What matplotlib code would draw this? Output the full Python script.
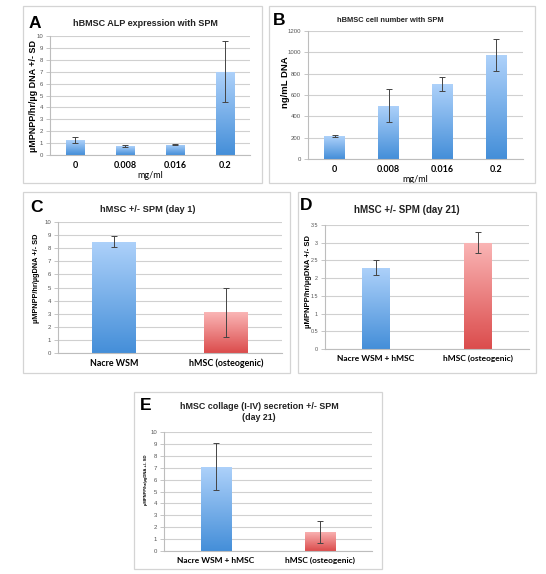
import numpy as np
import matplotlib
matplotlib.use("Agg")
import matplotlib.pyplot as plt
from matplotlib.patches import Rectangle

# ---- data ----
conc = ["0", "0.008", "0.016", "0.2"]
alp_mean = [1.25, 0.75, 0.85, 7.0]
alp_sd = [0.28, 0.05, 0.05, 2.55]
cells_mean = [215, 500, 700, 975]
cells_sd = [6, 155, 65, 150]

grp_c = ["Nacre WSM", "hMSC (osteogenic)"]
day1_mean = [8.5, 3.1]
day1_sd = [0.42, 1.9]

grp_de = ["Nacre WSM + hMSC", "hMSC (osteogenic)"]
day21_mean = [2.3, 3.0]
day21_sd = [0.2, 0.3]
coll_mean = [7.1, 1.6]
coll_sd = [1.95, 0.9]

W, H = 546, 574
FONT = "Liberation Sans"
TICKFONT = "Lato"
plt.rcParams.update({"font.family": [FONT, "DejaVu Sans"]})

fig = plt.figure(figsize=(W / 100, H / 100), dpi=100)
fig.patch.set_facecolor("white")

BLUE = [(0.68, 0.82, 0.98), (0.27, 0.56, 0.85)]
RED = [(0.98, 0.71, 0.71), (0.86, 0.30, 0.30)]


def px_rect(x0, y0, x1, y1):
    return [x0 / W, 1 - y1 / H, (x1 - x0) / W, (y1 - y0) / H]


def ftext(x, y, s, **kw):
    return fig.text(x / W, 1 - y / H, s, **kw)


def panel_box(x0, y0, x1, y1, letter, lx, ly):
    fig.patches.append(Rectangle((x0 / W, 1 - y1 / H), (x1 - x0) / W, (y1 - y0) / H,
                                 transform=fig.transFigure, fill=False,
                                 edgecolor="#d4d4d4", lw=0.9))
    ftext(lx, ly, letter, fontsize=12.5, fontweight="bold", ha="left", va="baseline")


def gradient_bars(ax, bars, colors):
    grad = np.linspace(0, 1, 64)
    for b, (top, bot) in zip(bars, colors):
        img = np.zeros((64, 1, 3))
        for k in range(3):
            img[:, 0, k] = top[k] + (bot[k] - top[k]) * grad
        x, y = b.get_x(), b.get_y()
        w, h = b.get_width(), b.get_height()
        im = ax.imshow(img, extent=(x, x + w, y, y + h), aspect="auto",
                       origin="upper", zorder=2, interpolation="bilinear")
        im.set_clip_path(b)
        b.set_facecolor("none")


def style(ax, ymax, step, xlabels, xt_size=6.5, xlabel=None, tick_fmt=None, yt_size=4.3):
    ax.set_ylim(0, ymax)
    ticks = np.arange(0, ymax + step / 2, step)
    ax.set_yticks(ticks)
    if tick_fmt:
        ax.set_yticklabels([tick_fmt(t) for t in ticks])
    ax.yaxis.grid(True, color="#d0d0d0", lw=0.8)
    ax.set_axisbelow(True)
    for s in ["top", "right"]:
        ax.spines[s].set_visible(False)
    for s in ["left", "bottom"]:
        ax.spines[s].set_color("#bdbdbd")
        ax.spines[s].set_linewidth(0.8)
    ax.tick_params(axis="y", labelsize=yt_size, colors="#bdbdbd", labelcolor="#555555",
                   length=3, width=0.6, pad=2)
    ax.tick_params(axis="x", length=0, pad=4)
    ax.set_xticks(range(len(xlabels)))
    ax.set_xticklabels(xlabels, fontsize=xt_size, family=TICKFONT, fontweight="bold")
    if xlabel:
        ax.set_xlabel(xlabel, fontsize=6.5, family=TICKFONT, labelpad=1)


def bar_panel(ax, cats, means, sds, width, colors):
    x = np.arange(len(cats))
    bars = ax.bar(x, means, width=width, color="none", zorder=2)
    gradient_bars(ax, bars, colors)
    ax.errorbar(x, means, yerr=sds, fmt="none", ecolor="#444444", elinewidth=0.7,
                capsize=2.2, capthick=0.7, zorder=4)
    ax.set_xlim(-0.5, len(cats) - 0.5)


def title(x, y, s, size):
    ftext(x, y, s, fontsize=size, fontweight="bold", color="#222222",
          ha="center", va="center", linespacing=1.25)


def ylab(x, y, s, size):
    ftext(x, y, s, fontsize=size, fontweight="bold", rotation=90,
          ha="center", va="center")


# ---- panel A ----
panel_box(23, 6, 262, 183, "A", 29, 28)
axA = fig.add_axes(px_rect(50, 36, 250, 155))
bar_panel(axA, conc, alp_mean, alp_sd, 0.38, [BLUE] * 4)
style(axA, 10, 1, conc, xlabel="mg/ml")
title(145, 23, "hBMSC ALP expression with SPM", 6.5)
ylab(34, 96, "µMPNPP/hr/µg DNA +/- SD", 6.5)

# ---- panel B ----
panel_box(269, 6, 535, 183, "B", 273, 25)
axB = fig.add_axes(px_rect(308, 31, 523, 159))
bar_panel(axB, conc, cells_mean, cells_sd, 0.39, [BLUE] * 4)
style(axB, 1200, 200, conc, xlabel="mg/ml")
title(390, 21, "hBMSC cell number with SPM", 5.4)
ylab(286, 82, "ng/mL DNA", 6.8)

# ---- panel C ----
panel_box(23, 192, 290, 373, "C", 30, 212)
axC = fig.add_axes(px_rect(58, 222, 282, 353))
bar_panel(axC, grp_c, day1_mean, day1_sd, 0.39, [BLUE, RED])
style(axC, 10, 1, grp_c, xt_size=6.4)
title(148, 210, "hMSC +/- SPM (day 1)", 6.7)
ylab(36, 278, "µMPNPP/hr/µgDNA +/- SD", 5.3)

# ---- panel D ----
panel_box(298, 192, 536, 373, "D", 300, 210)
axD = fig.add_axes(px_rect(325, 225, 529, 349))
bar_panel(axD, grp_de, day21_mean, day21_sd, 0.27, [BLUE, RED])
style(axD, 3.5, 0.5, grp_de, xt_size=6, tick_fmt=lambda t: f"{t:g}", yt_size=3.9)
title(407, 210, "hMSC +/- SPM (day 21)", 7.0)
ylab(308, 281, "µMPNPP/hr/µgDNA +/- SD", 5.5)

# ---- panel E ----
panel_box(134, 392, 382, 569, "E", 140, 410)
axE = fig.add_axes(px_rect(164, 432, 372, 551))
bar_panel(axE, grp_de, coll_mean, coll_sd, 0.29, [BLUE, RED])
style(axE, 10, 1, grp_de, xt_size=6)
title(259, 412, "hMSC collage (I-IV) secretion +/- SPM\n(day 21)", 6.4)
ylab(146, 480, "µMPNPP/hr/µgDNA +/- SD", 3.1)

fig.savefig("out.png", dpi=100, facecolor="white")
